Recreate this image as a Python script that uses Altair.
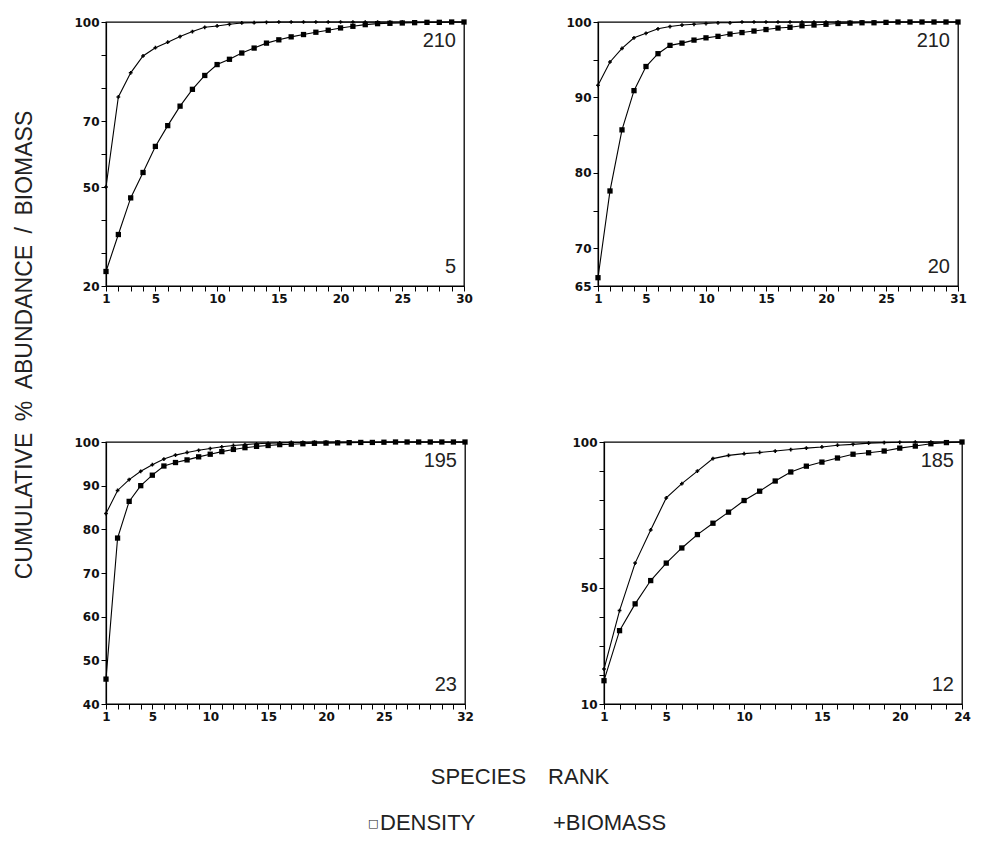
import altair as alt
import pandas as pd

# ---------------- data ----------------
# Panel 1 (top-left): ranks 1..30
p1_density = [24.4, 35.6, 46.7, 54.4, 62.3, 68.6, 74.5, 79.6, 83.8, 87.1,
              88.7, 90.6, 92.1, 93.6, 94.6, 95.5, 96.2, 96.9, 97.5, 98.2,
              98.7, 99.2, 99.5, 99.6, 99.7, 99.8, 99.9, 99.9, 100.0, 100.0]
p1_biomass = [50.0, 77.3, 84.6, 89.7, 92.2, 93.9, 95.6, 97.1, 98.4, 98.8,
              99.3, 99.7, 99.8, 99.9, 100.0, 100.0, 100.0, 100.0, 100.0, 100.0,
              100.0, 100.0, 100.0, 100.0, 100.0, 100.0, 100.0, 100.0, 100.0, 100.0]

# Panel 2 (top-right): ranks 1..31
p2_density = [66.1, 77.6, 85.7, 90.9, 94.1, 95.8, 96.9, 97.2, 97.6, 97.9,
              98.1, 98.4, 98.6, 98.8, 99.0, 99.2, 99.3, 99.5, 99.6, 99.7,
              99.8, 99.85, 99.9, 99.9, 99.95, 100.0, 100.0, 100.0, 100.0, 100.0, 100.0]
p2_biomass = [91.6, 94.7, 96.5, 97.9, 98.5, 99.1, 99.4, 99.6, 99.7, 99.8,
              99.9, 99.9, 100.0, 100.0, 100.0, 100.0, 100.0, 100.0, 100.0, 100.0,
              100.0, 100.0, 100.0, 100.0, 100.0, 100.0, 100.0, 100.0, 100.0, 100.0, 100.0]

# Panel 3 (bottom-left): ranks 1..32
p3_density = [45.7, 78.0, 86.4, 90.0, 92.4, 94.5, 95.3, 95.9, 96.6, 97.2,
              97.8, 98.3, 98.7, 99.0, 99.2, 99.4, 99.5, 99.6, 99.7, 99.75,
              99.8, 99.85, 99.9, 99.9, 99.95, 100.0, 100.0, 100.0, 100.0, 100.0,
              100.0, 100.0]
p3_biomass = [83.6, 88.9, 91.4, 93.3, 94.8, 96.1, 97.0, 97.6, 98.1, 98.5,
              98.9, 99.2, 99.4, 99.6, 99.7, 99.8, 99.9, 99.9, 100.0, 100.0,
              100.0, 100.0, 100.0, 100.0, 100.0, 100.0, 100.0, 100.0, 100.0, 100.0,
              100.0, 100.0]

# Panel 4 (bottom-right): ranks 1..24
p4_density = [18.0, 35.2, 44.4, 52.4, 58.4, 63.6, 68.2, 72.1, 75.9, 79.9,
              83.1, 86.6, 89.7, 91.7, 93.1, 94.5, 95.8, 96.3, 96.9, 97.9,
              98.6, 99.4, 99.8, 100.0]
p4_biomass = [22.0, 42.1, 58.4, 69.8, 80.8, 85.7, 90.0, 94.3, 95.4, 96.0,
              96.4, 96.9, 97.4, 97.9, 98.3, 98.9, 99.2, 99.6, 99.8, 99.9,
              100.0, 100.0, 100.0, 100.0]

# axis ticks and labels
p1_yticks = [20, 30, 40, 50, 60, 70, 80, 90, 100]
p1_ylabels = [20, 50, 70, 100]
p1_xlabels = [1, 5, 10, 15, 20, 25, 30]

p2_yticks = [65, 70, 75, 80, 85, 90, 95, 100]
p2_ylabels = [65, 70, 80, 90, 100]
p2_xlabels = [1, 5, 10, 15, 20, 25, 31]

p3_yticks = [40, 50, 60, 70, 80, 90, 100]
p3_ylabels = [40, 50, 60, 70, 80, 90, 100]
p3_xlabels = [1, 5, 10, 15, 20, 25, 32]

p4_yticks = [10, 20, 30, 40, 50, 60, 70, 80, 90, 100]
p4_ylabels = [10, 50, 100]
p4_xlabels = [1, 5, 10, 15, 20, 24]

corner_labels = [("210", "5"), ("210", "20"), ("195", "23"), ("185", "12")]

series_names = ["DENSITY", "BIOMASS"]
y_title = "CUMULATIVE\u2002%\u2002ABUNDANCE\u2002/\u2002BIOMASS"
x_title = "SPECIES\u2003RANK"
legend_square = "\u25a1"
legend_texts = ["DENSITY", "+BIOMASS"]

FONT = "Liberation Sans, DejaVu Sans, Arial"
FRAME = alt.ViewBackground(stroke="black", strokeWidth=1.3)
NOFRAME = alt.ViewBackground(stroke="transparent")


def panel(dens, bio, ymin, yticks, ylabels, xlabels, corners, w, h):
    n = len(dens)
    ranks = list(range(1, n + 1))
    df = pd.DataFrame({
        "rank": ranks * 2,
        "value": dens + bio,
        "series": [series_names[0]] * n + [series_names[1]] * n,
    })
    x = alt.X("rank:Q",
              scale=alt.Scale(domain=[1, n], nice=False, zero=False),
              axis=alt.Axis(values=ranks, title=None,
                            labelExpr=f"indexof({xlabels}, datum.value) >= 0 ? datum.label : ''"))
    y = alt.Y("value:Q",
              scale=alt.Scale(domain=[ymin, 100], nice=False, zero=False),
              axis=alt.Axis(values=yticks, title=None,
                            labelExpr=f"indexof({ylabels}, datum.value) >= 0 ? datum.label : ''"))
    base = alt.Chart(df)
    lines = base.mark_line(color="black", strokeWidth=1.1).encode(
        x=x, y=y, detail="series:N")
    dpts = base.transform_filter(alt.datum.series == series_names[0]).mark_point(
        shape="square", filled=True, size=28, color="black", opacity=1).encode(x=x, y=y)
    bpts = base.transform_filter(alt.datum.series == series_names[1]).mark_point(
        shape="cross", filled=True, size=14, color="black", opacity=1).encode(x=x, y=y)
    top = alt.Chart(pd.DataFrame({"t": [corners[0]]})).mark_text(
        align="right", baseline="middle", fontSize=20, font=FONT, color="#222"
    ).encode(text="t:N", x=alt.value(w - 8), y=alt.value(19))
    bot = alt.Chart(pd.DataFrame({"t": [corners[1]]})).mark_text(
        align="right", baseline="middle", fontSize=20, font=FONT, color="#222"
    ).encode(text="t:N", x=alt.value(w - 8), y=alt.value(h - 19))
    return alt.layer(lines, dpts, bpts, top, bot).properties(
        width=w, height=h, view=FRAME)


c1 = panel(p1_density, p1_biomass, 20, p1_yticks, p1_ylabels, p1_xlabels, corner_labels[0], 358, 264)
c2 = panel(p2_density, p2_biomass, 65, p2_yticks, p2_ylabels, p2_xlabels, corner_labels[1], 360, 264)
c3 = panel(p3_density, p3_biomass, 40, p3_yticks, p3_ylabels, p3_xlabels, corner_labels[2], 359, 262)
c4 = panel(p4_density, p4_biomass, 10, p4_yticks, p4_ylabels, p4_xlabels, corner_labels[3], 358, 262)

row1 = alt.hconcat(c1, c2, spacing=92)
row2 = alt.hconcat(c3, c4, spacing=97)
grid = alt.vconcat(row1, row2, spacing=130)

TXT = dict(baseline="middle", fontSize=22, font=FONT, color="#222")
xt = alt.Chart(pd.DataFrame({"t": [x_title]})).mark_text(align="center", **TXT).encode(
    text="t:N", x=alt.value(414), y=alt.value(42))
lg0 = alt.Chart(pd.DataFrame({"t": [legend_square]})).mark_text(
    align="left", baseline="middle", fontSize=11, font="DejaVu Sans", color="#222"
).encode(text="t:N", x=alt.value(262), y=alt.value(89))
lg1 = alt.Chart(pd.DataFrame({"t": [legend_texts[0]]})).mark_text(align="left", **TXT).encode(
    text="t:N", x=alt.value(274), y=alt.value(88))
lg2 = alt.Chart(pd.DataFrame({"t": [legend_texts[1]]})).mark_text(align="left", **TXT).encode(
    text="t:N", x=alt.value(447), y=alt.value(88))
bottom = alt.layer(xt, lg0, lg1, lg2).properties(width=840, height=95, view=NOFRAME)

right = alt.vconcat(grid, bottom, spacing=11)

ytitle = alt.Chart(pd.DataFrame({"t": [y_title]})).mark_text(
    angle=270, align="center", baseline="middle", fontSize=23, font=FONT, color="#222"
).encode(text="t:N", x=alt.value(10), y=alt.value(323)).properties(
    width=28, height=700, view=NOFRAME)

chart = alt.hconcat(ytitle, right, spacing=29).properties(
    padding={"left": 5, "top": 7, "right": 0, "bottom": 0}
).configure(
    background="white"
).configure_axis(
    grid=False,
    domainColor="black",
    domainWidth=1.2,
    tickColor="black",
    tickSize=5,
    tickWidth=1,
    labelColor="#111",
    labelFont="DejaVu Sans",
    labelFontWeight="bold",
    labelFontSize=12,
    labelPadding=2,
    labelOverlap=False,
    labelFlush=False,
)

chart.save("out.html", embed_options={"renderer": "svg", "actions": False})
